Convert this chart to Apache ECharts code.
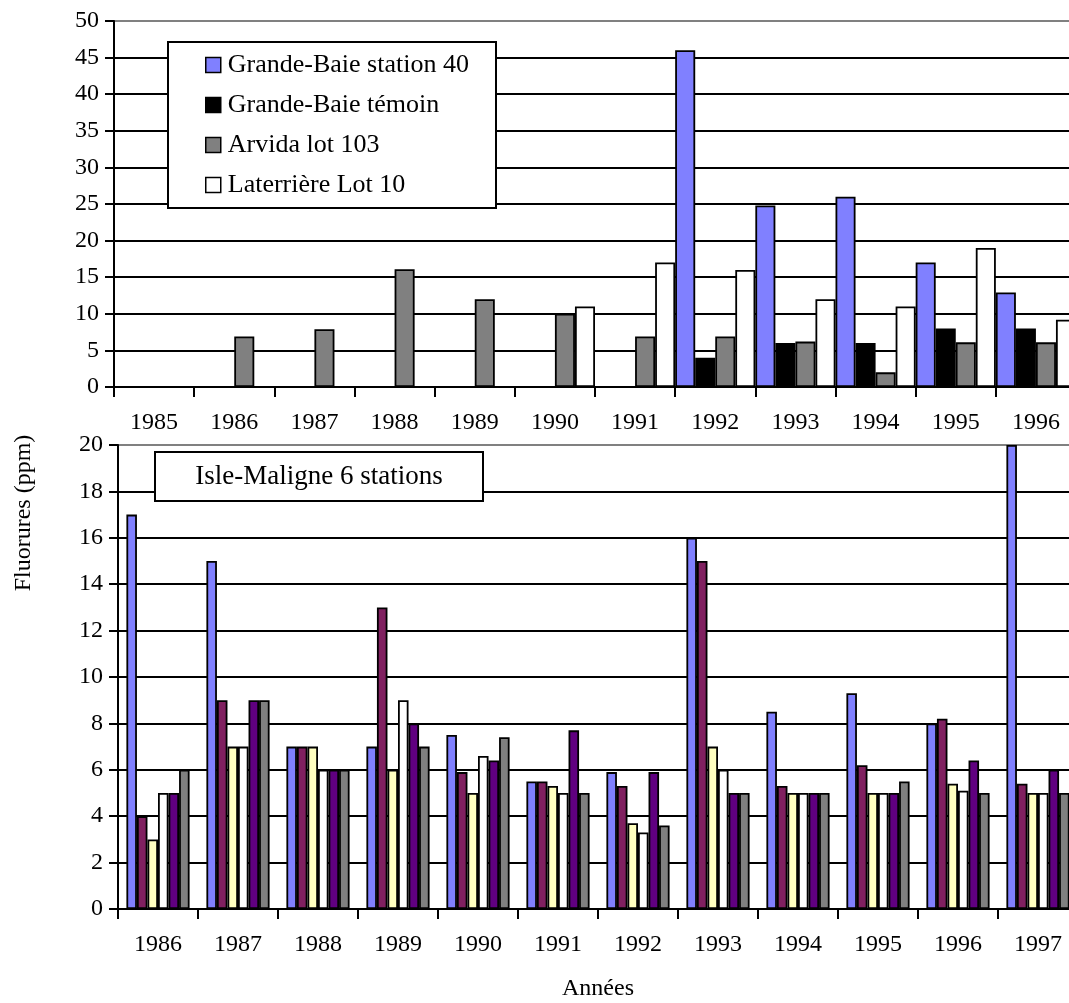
<!DOCTYPE html>
<html>
<head>
<meta charset="utf-8">
<script src="https://cdn.jsdelivr.net/npm/echarts@6/dist/echarts.min.js"></script>
<style>
    html, body { margin: 0; padding: 0; background: #fff; }
    #chart { width: 1069px; height: 1003px; }
</style>
</head>
<body>
<div id="chart"></div>
<script>
// panneau du haut : Grande-Baie, Arvida, Laterrière
var yearsTop = ['1985', '1986', '1987', '1988', '1989', '1990', '1991', '1992', '1993', '1994', '1995', '1996'];
var gbStation40 = [null, null, null, null, null, null, null, 46, 24.8, 26, 17, 12.9];
var gbTemoin = [null, null, null, null, null, null, null, 4, 6, 6, 8, 8];
var arvida103 = [null, 6.9, 7.9, 16.1, 12, 10, 6.9, 6.9, 6.2, 2, 6.1, 6.1];
var laterriere10 = [null, null, null, null, null, 11, 17, 16, 12, 11, 19, 9.2];
var ticksTop = [0, 5, 10, 15, 20, 25, 30, 35, 40, 45, 50];

// panneau du bas : Isle-Maligne, 6 stations
var yearsBottom = ['1986', '1987', '1988', '1989', '1990', '1991', '1992', '1993', '1994', '1995', '1996', '1997'];
var im1 = [17, 15, 7, 7, 7.5, 5.5, 5.9, 16, 8.5, 9.3, 8, 20];
var im2 = [4, 9, 7, 13, 5.9, 5.5, 5.3, 15, 5.3, 6.2, 8.2, 5.4];
var im3 = [3, 7, 7, 6, 5, 5.3, 3.7, 7, 5, 5, 5.4, 5];
var im4 = [5, 7, 6, 9, 6.6, 5, 3.3, 6, 5, 5, 5.1, 5];
var im5 = [5, 9, 6, 8, 6.4, 7.7, 5.9, 5, 5, 5, 6.4, 6];
var im6 = [6, 9, 6, 7, 7.4, 5, 3.6, 5, 5, 5.5, 5, 5];
var ticksBottom = [0, 2, 4, 6, 8, 10, 12, 14, 16, 18, 20];

var FONT = "'Liberation Serif', 'Times New Roman', serif";

var chart = echarts.init(document.getElementById('chart'));

// lignes de grille noires, bord du haut gris
function gridLines(n) {
    var c = [];
    for (var i = 0; i < n - 1; i++) c.push('#000');
    c.push('#808080');
    return c;
}

function yAxis(gridIndex, ticks) {
    return {
        type: 'value',
        gridIndex: gridIndex,
        min: ticks[0],
        max: ticks[ticks.length - 1],
        interval: ticks[1] - ticks[0],
        axisLine: { show: true, lineStyle: { color: '#000', width: 2 } },
        axisTick: { show: true, length: 9, lineStyle: { color: '#000', width: 2 } },
        axisLabel: { color: '#000', fontFamily: FONT, fontSize: 24, margin: 15 },
        splitLine: { show: true, lineStyle: { color: gridLines(ticks.length), width: 1.8 } }
    };
}

function xAxis(gridIndex, years, extra) {
    var ax = {
        type: 'category',
        gridIndex: gridIndex,
        data: years,
        axisLine: { show: true, onZero: false, lineStyle: { color: '#000', width: 2 } },
        axisTick: { show: true, length: 10, lineStyle: { color: '#000', width: 2 } },
        axisLabel: { color: '#000', fontFamily: FONT, fontSize: 24, margin: 24, interval: 0 },
        splitLine: { show: false }
    };
    return Object.assign(ax, extra || {});
}

function bars(name, data, color, xi, gap) {
    return {
        name: name,
        type: 'bar',
        xAxisIndex: xi,
        yAxisIndex: xi,
        data: data,
        barGap: '0%',
        barCategoryGap: gap,
        itemStyle: { color: color, borderColor: '#000', borderWidth: 1.8 },
        emphasis: { disabled: true },
        animation: false
    };
}

var option = {
    backgroundColor: '#fff',
    animation: false,
    grid: [
        { left: 114, top: 21, width: 962, height: 366, containLabel: false, outerBoundsMode: 'none' },
        { left: 118, top: 445, width: 960, height: 464, containLabel: false, outerBoundsMode: 'none' }
    ],
    xAxis: [
        xAxis(0, yearsTop),
        xAxis(1, yearsBottom, {
            name: 'Années',
            nameLocation: 'middle',
            nameGap: 68,
            nameTextStyle: { color: '#000', fontFamily: FONT, fontSize: 24 }
        })
    ],
    yAxis: [yAxis(0, ticksTop), yAxis(1, ticksBottom)],
    legend: {
        data: ['Grande-Baie station 40', 'Grande-Baie témoin', 'Arvida lot 103', 'Laterrière Lot 10'],
        orient: 'vertical',
        left: 205,
        top: 52,
        padding: 0,
        itemGap: 14,
        itemWidth: 15,
        itemHeight: 15,
        icon: 'rect',
        itemStyle: { borderColor: '#000', borderWidth: 1.5 },
        textStyle: { color: '#000', fontFamily: FONT, fontSize: 26, lineHeight: 26, padding: [0, 0, 0, 2] },
        selectedMode: false,
        z: 5
    },
    graphic: [
        {
            type: 'rect', z: 3,
            shape: { x: 168, y: 42, width: 328, height: 166 },
            style: { fill: '#fff', stroke: '#000', lineWidth: 2 }
        },
        {
            type: 'rect', z: 3,
            shape: { x: 155, y: 452, width: 328, height: 49 },
            style: { fill: '#fff', stroke: '#000', lineWidth: 2 }
        },
        {
            type: 'text', z: 4, x: 319, y: 477,
            style: { text: 'Isle-Maligne 6 stations', fill: '#000', font: '27px ' + FONT, align: 'center', verticalAlign: 'middle' }
        },
        {
            type: 'text', z: 4, x: 24, y: 513, rotation: Math.PI / 2,
            style: { text: 'Fluorures (ppm)', fill: '#000', font: '24px ' + FONT, align: 'center', verticalAlign: 'middle' }
        }
    ],
    series: [
        bars('Grande-Baie station 40', gbStation40, '#8080FF', 0, '0%'),
        bars('Grande-Baie témoin', gbTemoin, '#000000', 0, '0%'),
        bars('Arvida lot 103', arvida103, '#808080', 0, '0%'),
        bars('Laterrière Lot 10', laterriere10, '#FFFFFF', 0, '0%'),
        bars('Station 1', im1, '#8080FF', 1, '21%'),
        bars('Station 2', im2, '#802060', 1, '21%'),
        bars('Station 3', im3, '#FFFFC0', 1, '21%'),
        bars('Station 4', im4, '#FFFFFF', 1, '21%'),
        bars('Station 5', im5, '#600080', 1, '21%'),
        bars('Station 6', im6, '#808080', 1, '21%')
    ]
};

chart.setOption(option);
</script>
</body>
</html>
